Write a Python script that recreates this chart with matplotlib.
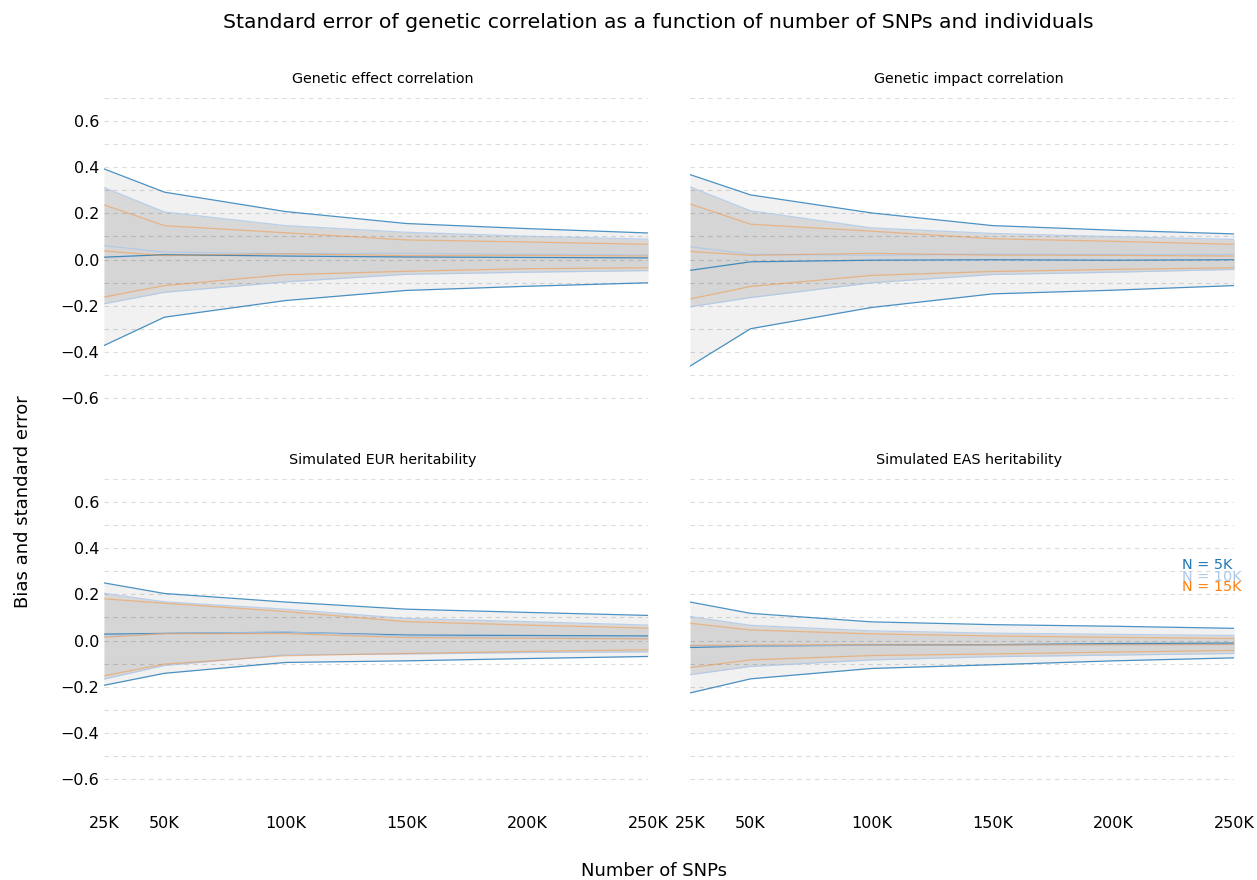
import matplotlib

matplotlib.use("Agg")

import matplotlib.pyplot as plt
import numpy as np

snps = [25_000, 50_000, 100_000, 150_000, 200_000, 250_000]
snp_labels = ["25K", "50K", "100K", "150K", "200K", "250K"]
sample_sizes = ["5K", "10K", "15K"]
panel_titles = [
    "Genetic effect correlation",
    "Genetic impact correlation",
    "Simulated EUR heritability",
    "Simulated EAS heritability",
]

# bias (mean) and standard error per panel, per sample size
effect_mean = {
    "5K": [0.010, 0.021, 0.015, 0.011, 0.009, 0.007],
    "10K": [0.060, 0.032, 0.025, 0.027, 0.023, 0.020],
    "15K": [0.037, 0.017, 0.025, 0.017, 0.018, 0.015],
}
effect_se = {
    "5K": [0.383, 0.271, 0.193, 0.145, 0.125, 0.108],
    "10K": [0.252, 0.174, 0.122, 0.091, 0.078, 0.068],
    "15K": [0.200, 0.130, 0.091, 0.068, 0.058, 0.051],
}
impact_mean = {
    "5K": [-0.047, -0.010, -0.003, -0.001, -0.003, -0.001],
    "10K": [0.055, 0.023, 0.018, 0.024, 0.022, 0.022],
    "15K": [0.035, 0.018, 0.027, 0.019, 0.018, 0.015],
}
impact_se = {
    "5K": [0.415, 0.290, 0.205, 0.148, 0.130, 0.112],
    "10K": [0.260, 0.188, 0.119, 0.089, 0.077, 0.065],
    "15K": [0.206, 0.135, 0.096, 0.071, 0.061, 0.051],
}
eur_mean = {
    "5K": [0.028, 0.031, 0.036, 0.024, 0.022, 0.020],
    "10K": [0.019, 0.030, 0.037, 0.019, 0.015, 0.009],
    "15K": [0.014, 0.030, 0.030, 0.013, 0.010, 0.007],
}
eur_se = {
    "5K": [0.222, 0.173, 0.131, 0.112, 0.100, 0.089],
    "10K": [0.186, 0.138, 0.099, 0.077, 0.067, 0.058],
    "15K": [0.167, 0.132, 0.096, 0.069, 0.057, 0.047],
}
eas_mean = {
    "5K": [-0.030, -0.024, -0.020, -0.018, -0.013, -0.011],
    "10K": [-0.022, -0.023, -0.021, -0.019, -0.018, -0.017],
    "15K": [-0.021, -0.019, -0.018, -0.019, -0.018, -0.017],
}
eas_se = {
    "5K": [0.197, 0.142, 0.101, 0.087, 0.075, 0.064],
    "10K": [0.126, 0.089, 0.063, 0.051, 0.045, 0.039],
    "15K": [0.096, 0.065, 0.047, 0.039, 0.032, 0.026],
}

panels = [
    (effect_mean, effect_se),
    (impact_mean, impact_se),
    (eur_mean, eur_se),
    (eas_mean, eas_se),
]

line_colors = {"5K": "#1f77b4", "10K": "#aec7e8", "15K": "#ff7f0e"}
line_alpha = {"5K": 0.8, "10K": 0.8, "15K": 0.4}
fill_alpha = {"5K": 0.055, "10K": 0.10, "15K": 0.01}

fig = plt.figure(figsize=(12.57, 8.8), dpi=100)
ax_w = 0.433
ax_h = 0.367
lefts = [0.0827, 0.549]
bottoms = [0.5216, 0.0886]

axes = []
for row in range(2):
    for col in range(2):
        axes.append(fig.add_axes([lefts[col], bottoms[row], ax_w, ax_h]))

x = np.array(snps, dtype=float)
for i, (axis, (means, ses)) in enumerate(zip(axes, panels)):
    for n in sample_sizes:
        mean = np.array(means[n])
        se = np.array(ses[n])
        axis.fill_between(
            x, mean - se, mean + se, color="black",
            alpha=fill_alpha[n], linewidth=0,
        )
        for curve in (mean - se, mean, mean + se):
            axis.plot(
                x, curve, color=line_colors[n], alpha=line_alpha[n],
                linewidth=0.9,
            )
    axis.set_xlim(snps[0], snps[-1])
    axis.set_ylim(-0.7, 0.7)
    axis.set_yticks(np.round(np.arange(-0.6, 0.61, 0.2), 1))
    axis.set_yticks(np.round(np.arange(-0.7, 0.71, 0.1), 1), minor=True)
    axis.set_yticklabels(
        [f"{v:.1f}".replace("-", "\u2212") for v in np.arange(-0.6, 0.61, 0.2)]
    )
    axis.grid(True, which="both", axis="y", linestyle=(0, (4, 4)),
              color="#dcdcdc", linewidth=0.8)
    axis.set_axisbelow(True)
    for spine in axis.spines.values():
        spine.set_visible(False)
    axis.tick_params(axis="both", which="both", length=0, labelsize=11.5)
    axis.tick_params(axis="x", pad=10)
    axis.set_xticks(snps)
    if i < 2:
        axis.set_xticklabels([])
    else:
        axis.set_xticklabels(snp_labels)
    if i % 2 == 1:
        axis.set_yticklabels([])
    axis.set_title(panel_titles[i], fontsize=10.3, pad=11, x=0.512)

legend_y = [0.734, 0.697, 0.666]
for n, y in zip(sample_sizes, legend_y):
    axes[3].text(0.903, y, f"N = {n}", color=line_colors[n], fontsize=10.4,
                 transform=axes[3].transAxes, ha="left", va="center")

fig.suptitle(
    "Standard error of genetic correlation as a function of number of SNPs and individuals",
    fontsize=14.7, x=0.5235, y=0.975, va="center",
)
fig.text(0.52, 0.0102, "Number of SNPs", fontsize=13, ha="center", va="center")
fig.text(0.018, 0.43, "Bias and standard error", fontsize=13, rotation=90,
         ha="center", va="center")

fig.savefig("out.png", dpi=100)
